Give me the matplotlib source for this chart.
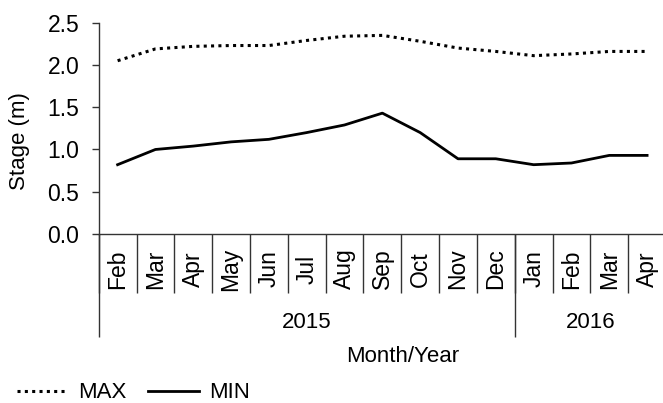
import matplotlib
matplotlib.use('Agg')
import matplotlib.pyplot as plt
import numpy as np

# Monthly river stage, Feb 2015 - Apr 2016
months = ['Feb', 'Mar', 'Apr', 'May', 'Jun', 'Jul', 'Aug', 'Sep', 'Oct',
          'Nov', 'Dec', 'Jan', 'Feb', 'Mar', 'Apr']
years = ['2015', '2016']
year_counts = [11, 4]
stage_max = [2.05, 2.19, 2.22, 2.23, 2.23, 2.29, 2.34, 2.35, 2.28,
             2.20, 2.16, 2.11, 2.13, 2.16, 2.16]
stage_min = [0.82, 1.00, 1.04, 1.09, 1.12, 1.20, 1.29, 1.43, 1.20,
             0.89, 0.89, 0.82, 0.84, 0.93, 0.93]
yticks = [0.0, 0.5, 1.0, 1.5, 2.0, 2.5]

plt.rcParams['font.family'] = ['Liberation Sans', 'DejaVu Sans']
fs = 16
W, H = 663, 403

fig = plt.figure(figsize=(W / 100, H / 100), dpi=100)
ax = fig.add_axes([98.7 / W, 1 - 234 / H, (666 - 98.7) / W, (234 - 22.7) / H])
ax_h = 234 - 22.7

x = np.arange(len(months))
ax.plot(x, stage_max, color='black', lw=2.2, linestyle=(0, (1, 1.4)),
        label='MAX', clip_on=False)
ax.plot(x, stage_min, color='black', lw=2.0, label='MIN', clip_on=False)

ax.set_xlim(-0.5, len(months) - 0.5)
ax.set_ylim(0, 2.5)
ax.set_yticks(yticks)
ax.set_yticklabels([f'{v:.1f}' for v in yticks], fontsize=fs + 0.5)
ax.tick_params(axis='y', length=5, width=1, pad=9, color='#333333')
ax.set_xticks([])

for s in ['top', 'right']:
    ax.spines[s].set_visible(False)
for s in ['left', 'bottom']:
    ax.spines[s].set_linewidth(1.0)
    ax.spines[s].set_color('#333333')

trans = ax.get_xaxis_transform()
# month separators and labels
ax.vlines(np.arange(len(months) + 1) - 0.5, 0, -(293 - 234) / ax_h,
          transform=trans, color='#333333', lw=1.0, clip_on=False)
for i, m in enumerate(months):
    ax.text(i, -(269 - 234) / ax_h, m, transform=trans, rotation=90,
            ha='center', va='center', fontsize=fs + 0.5)

# year separators and labels
bounds = np.concatenate([[0], np.cumsum(year_counts)]) - 0.5
ax.vlines(bounds, 0, -(337 - 234) / ax_h, transform=trans,
          color='#333333', lw=1.0, clip_on=False)
for k, yr in enumerate(years):
    ax.text((bounds[k] + bounds[k + 1]) / 2, -(322 - 234) / ax_h, yr,
            transform=trans, ha='center', va='center', fontsize=fs)

fig.text(403 / W, 1 - 357 / H, 'Month/Year', ha='center', va='center', fontsize=fs)
fig.text(20 / W, 1 - 141 / H, 'Stage (m)', rotation=90, ha='center',
         va='center', fontsize=fs)

fig.legend(loc='center left', bbox_to_anchor=(17 / W, 1 - 393 / H), ncol=2,
           frameon=False, fontsize=fs, handlelength=2.3, handletextpad=0.45,
           columnspacing=0.95, borderpad=0, borderaxespad=0)

fig.savefig('out.png', dpi=100)
